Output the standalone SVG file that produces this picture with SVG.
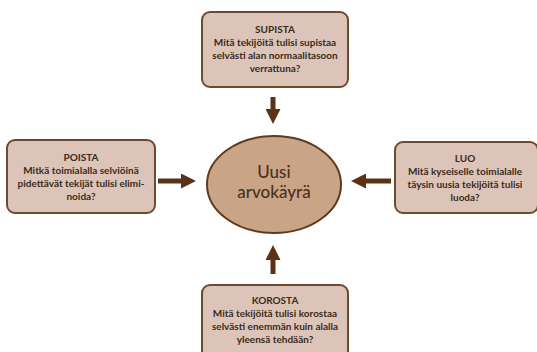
<svg xmlns="http://www.w3.org/2000/svg" width="537" height="352" viewBox="0 0 537 352">
  <defs>
    <style>
      .box { fill: #dcc5b8; stroke: #6e4a2f; stroke-width: 2; }
      .hub { fill: #c9a486; stroke: #5e3b1f; stroke-width: 2; }
      .lbl { font-family: "Lato", "Noto Sans", sans-serif; font-size: 10px; font-weight: 700; fill: #3b2a20; text-anchor: middle; }
      .hubtxt { font-family: "Lato", "Noto Sans", sans-serif; font-size: 17px; font-weight: 500; fill: #4a3020; text-anchor: middle; }
      .arrow { stroke: #5a3218; stroke-width: 5; fill: none; marker-end: url(#head); }
    </style>
    <marker id="head" viewBox="0 0 10 10" refX="6" refY="5" markerWidth="3" markerHeight="3" orient="auto" markerUnits="strokeWidth">
      <path d="M0,0 L10,5 L0,10 Z" fill="#5a3218"/>
    </marker>
  </defs>
  <rect width="537" height="352" fill="#ffffff"/>

  <g id="connectors">
    <line class="arrow" x1="273" y1="97" x2="273" y2="118"/>
    <line class="arrow" x1="158" y1="181" x2="190" y2="181"/>
    <line class="arrow" x1="391" y1="181" x2="357" y2="181"/>
    <line class="arrow" x1="273" y1="274" x2="273" y2="251"/>
  </g>

  <g id="supista">
    <rect class="box" x="202" y="12" width="146" height="75" rx="8"/>
    <text class="lbl" x="275" y="33">SUPISTA</text>
    <text class="lbl" x="275" y="46">Mitä tekijöitä tulisi supistaa</text>
    <text class="lbl" x="275" y="59">selvästi alan normaalitasoon</text>
    <text class="lbl" x="275" y="72">verrattuna?</text>
  </g>

  <g id="poista">
    <rect class="box" x="7" y="140" width="148" height="73" rx="8"/>
    <text class="lbl" x="81" y="161">POISTA</text>
    <text class="lbl" x="81" y="174">Mitkä toimialalla selviöinä</text>
    <text class="lbl" x="81" y="187">pidettävät tekijät tulisi elimi-</text>
    <text class="lbl" x="81" y="200">noida?</text>
  </g>

  <g id="luo">
    <rect class="box" x="395" y="142" width="143" height="71" rx="8"/>
    <text class="lbl" x="465" y="162">LUO</text>
    <text class="lbl" x="465" y="175">Mitä kyseiselle toimialalle</text>
    <text class="lbl" x="465" y="188">täysin uusia tekijöitä tulisi</text>
    <text class="lbl" x="465" y="201">luoda?</text>
  </g>

  <g id="korosta">
    <rect class="box" x="202" y="285" width="146" height="75" rx="8"/>
    <text class="lbl" x="275" y="304">KOROSTA</text>
    <text class="lbl" x="275" y="317">Mitä tekijöitä tulisi korostaa</text>
    <text class="lbl" x="275" y="330">selvästi enemmän kuin alalla</text>
    <text class="lbl" x="275" y="343">yleensä tehdään?</text>
  </g>

  <g id="hub">
    <ellipse class="hub" cx="274" cy="184.5" rx="67" ry="48.5"/>
    <text class="hubtxt" x="274" y="178">Uusi</text>
    <text class="hubtxt" x="274" y="198">arvokäyrä</text>
  </g>
</svg>
